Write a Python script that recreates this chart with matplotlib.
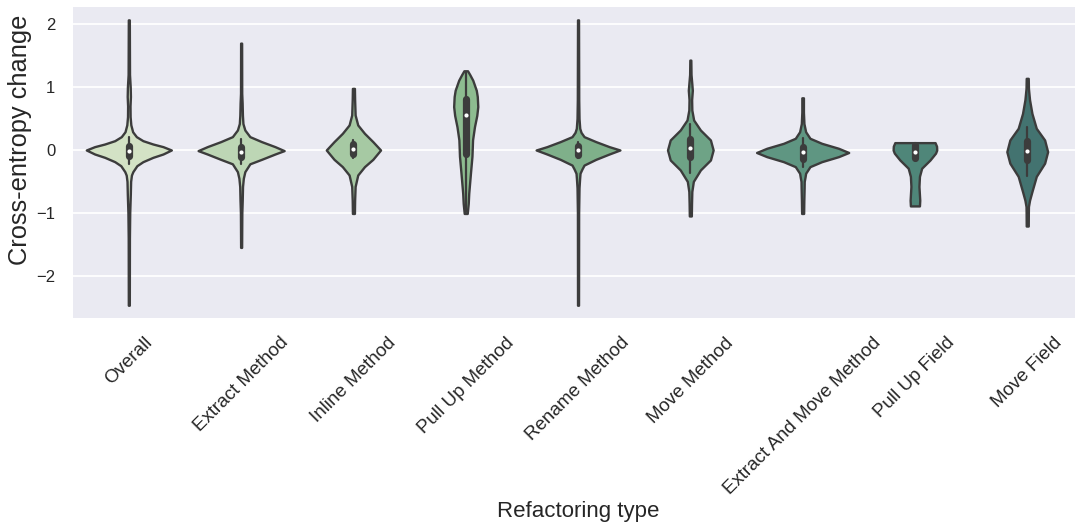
import numpy as np
import matplotlib.pyplot as plt
import seaborn as sns

sns.set_theme(style="darkgrid")
plt.rcParams['font.family'] = ['Liberation Sans', 'DejaVu Sans']

categories = ["Overall", "Extract Method", "Inline Method", "Pull Up Method",
              "Rename Method", "Move Method", "Extract And Move Method",
              "Pull Up Field", "Move Field"]

# density outlines: y levels and relative density
overall_y = [-2.47, -1.4, -1.0, -0.7, -0.5, -0.4, -0.345, -0.25, -0.186, -0.117, -0.064, 0.0,
             0.053, 0.095, 0.148, 0.212, 0.29, 0.4, 0.53, 0.7, 0.85, 1.0, 1.2, 2.07]
overall_d = [0.5, 0.6, 0.9, 1.5, 1.8, 2.6, 4.0, 8.0, 14, 24, 34, 42.3,
             34, 24, 14, 7.5, 3.8, 2.0, 1.3, 1.2, 1.6, 1.4, 0.7, 0.5]

extract_y = [-1.55, -1.0, -0.8, -0.58, -0.45, -0.345, -0.22, -0.149, -0.064, -0.01,
             0.053, 0.133, 0.212, 0.318, 0.42, 0.55, 0.75, 0.9, 1.70]
extract_d = [0.5, 0.7, 1.1, 1.4, 2.2, 3.7, 8.7, 20.3, 33.7, 42.8,
             33.7, 20.3, 8.7, 3.7, 1.8, 1.3, 1.0, 0.6, 0.5]

inline_y = [-1.01, -0.8, -0.58, -0.398, -0.265, -0.149, 0.0, 0.133, 0.265, 0.398, 0.557, 0.8, 0.98]
inline_d = [1.0, 1.2, 1.7, 4.3, 11, 19.3, 27, 19.3, 11, 4.3, 1.7, 1.2, 1.0]

pullup_y = [-1.01, -0.85, -0.69, -0.37, -0.1, 0.16, 0.37, 0.55, 0.69, 0.85, 0.95, 1.11, 1.2, 1.26]
pullup_d = [1.5, 2.5, 3.0, 4.7, 6.2, 6.8, 8.7, 11, 12, 11.5, 10.5, 7, 4, 1.8]

rename_y = [-2.47, -1.0, -0.6, -0.45, -0.37, -0.30, -0.24, -0.149, -0.064, 0.0,
            0.053, 0.133, 0.212, 0.28, 0.345, 0.5, 0.8, 2.07]
rename_d = [0.5, 0.6, 1.0, 1.6, 2.0, 4.0, 6.0, 17.7, 31, 41.7,
            31, 17.7, 6.0, 3.0, 1.7, 1.0, 0.7, 0.5]

move_y = [-1.05, -0.85, -0.66, -0.5, -0.318, -0.159, 0.0, 0.159, 0.318, 0.477,
          0.636, 0.8, 0.95, 1.05, 1.2, 1.43]
move_d = [1.0, 1.2, 1.5, 3.0, 10, 20, 22.7, 20, 10, 3.3,
          1.5, 1.3, 2.0, 1.5, 0.7, 0.5]

extmove_y = [-1.01, -0.8, -0.6, -0.5, -0.43, -0.37, -0.265, -0.186, -0.106, -0.04,
             0.027, 0.106, 0.186, 0.29, 0.42, 0.6, 0.83]
extmove_d = [1.0, 1.2, 1.5, 1.6, 2.4, 3.0, 7.3, 19, 35.7, 45.8,
             35.7, 19, 7.3, 3.0, 1.3, 0.8, 0.8]

pufield_y = [-0.89, -0.8, -0.58, -0.42, -0.29, -0.159, -0.05, 0.0, 0.06, 0.117]
pufield_d = [4.5, 4.8, 4.0, 4.5, 6.7, 15, 20.5, 21.7, 21.5, 20]

mfield_y = [-1.21, -1.0, -0.9, -0.8, -0.66, -0.42, -0.21, -0.027, 0.159, 0.345, 0.58, 0.8, 0.98, 1.14]
mfield_d = [1.0, 1.1, 1.2, 2.3, 4.7, 9, 17.3, 20.3, 17.3, 9, 4.7, 2.3, 1.2, 1.0]

profiles = [(overall_y, overall_d), (extract_y, extract_d), (inline_y, inline_d),
            (pullup_y, pullup_d), (rename_y, rename_d), (move_y, move_d),
            (extmove_y, extmove_d), (pufield_y, pufield_d), (mfield_y, mfield_d)]

# inner box stats
q1 = [-0.09, -0.11, -0.06, -0.064, -0.08, -0.106, -0.15, -0.13, -0.16]
medians = [-0.01, -0.03, 0.016, 0.557, 0.0, 0.027, -0.032, -0.04, -0.01]
q3 = [0.07, 0.05, 0.10, 0.81, 0.07, 0.17, 0.05, 0.08, 0.15]
whisk_lo = [-0.22, -0.22, -0.12, -0.98, -0.13, -0.36, -0.27, -0.16, -0.42]
whisk_hi = [0.21, 0.18, 0.16, 1.24, 0.12, 0.41, 0.19, 0.117, 0.36]

colors = ["#d3e2c5", "#bdd6b5", "#a6c9a3", "#8dbc90", "#7fb08a",
          "#6ea386", "#5f9682", "#4f8679", "#437370"]

dark = "#3c3c3c"

fig = plt.figure(figsize=(10.75, 5.25), dpi=100)
ax = fig.add_axes([0.0676, 0.3949, 0.9402, 0.5912])

dmax = max(max(d) for _, d in profiles)
for i, ((ys, ds), c) in enumerate(zip(profiles, colors)):
    hw = np.array(ds) / dmax * 0.41
    ax.fill_betweenx(ys, i - hw, i + hw, facecolor=c, edgecolor=dark, lw=1.7, zorder=2)
    ax.plot([i, i], [whisk_lo[i], whisk_hi[i]], color=dark, lw=1.6, zorder=3)
    ax.plot([i, i], [q1[i], q3[i]], color=dark, lw=5.2, solid_capstyle='round', zorder=3)
    ax.scatter([i], [medians[i]], s=9, color='white', zorder=4, linewidths=0)

ax.set_xlim(-0.5, 8.5)
ax.set_ylim(-2.668, 2.27)
ax.set_yticks([-2, -1, 0, 1, 2])
ax.set_xticks(range(len(categories)))
ax.set_xticklabels(categories, rotation=45, ha='center', fontsize=13.5, color='#262626')
ax.tick_params(axis='y', labelsize=12, pad=12.5, length=0, labelcolor='#262626')
ax.tick_params(axis='x', pad=12, length=0)
ax.xaxis.grid(False)
ax.yaxis.grid(True, color='white', lw=1.3)
ax.set_axisbelow(True)
for s in ax.spines.values():
    s.set_visible(False)

ax.set_xlabel("Refactoring type", fontsize=16, color='#262626')
ax.xaxis.set_label_coords(0.5, -0.592)
ax.set_ylabel("Cross-entropy change", fontsize=18.3, color='#262626')
ax.yaxis.set_label_coords(-0.040, 0.572)

fig.savefig("out.png", dpi=100)
